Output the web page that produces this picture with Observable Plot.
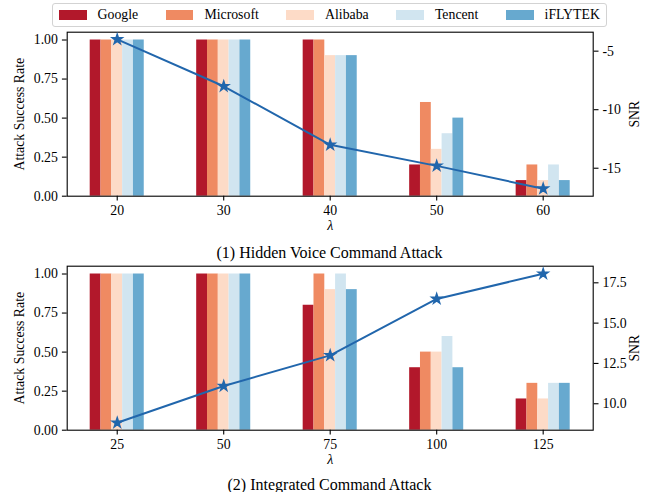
<!DOCTYPE html>
<html><head><meta charset="utf-8">
<script src="https://cdn.jsdelivr.net/npm/d3@7"></script>
<script src="https://cdn.jsdelivr.net/npm/@observablehq/plot@0.6"></script>
<style>
body{margin:0;background:#fff;}
#fig{position:relative;width:651px;height:492px;font-family:"Liberation Serif","Times New Roman",serif;color:#000;overflow:hidden;}
#fig svg, #fig svg text, #fig svg tspan{font-family:"Liberation Serif","Times New Roman",serif !important;}
.layer{position:absolute;left:0;}
#legend{position:absolute;left:52px;top:3px;height:23.5px;box-sizing:border-box;border:1px solid #d3d3d3;border-radius:3px;display:flex;align-items:center;padding:0 6px;font-size:13.8px;background:rgba(255,255,255,0.8);z-index:5;}
.item{display:flex;align-items:center;margin-right:27.6px;}
.item:last-child{margin-right:0;}
.sw{width:27.6px;height:9.6px;margin-right:11px;}
.cap{position:absolute;left:0;width:659px;text-align:center;font-size:16px;line-height:16px;}
</style></head>
<body>
<div id="fig">
  <div id="legend"></div>
  <div class="cap" style="top:245px">(1) Hidden Voice Command Attack</div>
  <div class="cap" style="top:477px">(2) Integrated Command Attack</div>
</div>
<script>
// ---- data ----
const companies = ["Google", "Microsoft", "Alibaba", "Tencent", "iFLYTEK"];
const colors = ["#b2182b", "#ef8a62", "#fddbc7", "#d1e5f0", "#67a9cf"];
const lineColor = "#2166ac";

// (1) Hidden Voice Command Attack
const hiddenLambda = [20, 30, 40, 50, 60];
const hiddenGoogle = [1.0, 1.0, 1.0, 0.2, 0.1];
const hiddenMicrosoft = [1.0, 1.0, 1.0, 0.6, 0.2];
const hiddenAlibaba = [1.0, 1.0, 0.9, 0.3, 0.1];
const hiddenTencent = [1.0, 1.0, 0.9, 0.4, 0.2];
const hiddenIflytek = [1.0, 1.0, 0.9, 0.5, 0.1];
const hiddenSNR = [-4.0, -8.0, -13.0, -14.8, -16.75];
const hiddenSNRTicks = [-5, -10, -15];

// (2) Integrated Command Attack
const integLambda = [25, 50, 75, 100, 125];
const integGoogle = [1.0, 1.0, 0.8, 0.4, 0.2];
const integMicrosoft = [1.0, 1.0, 1.0, 0.5, 0.3];
const integAlibaba = [1.0, 1.0, 0.9, 0.5, 0.2];
const integTencent = [1.0, 1.0, 1.0, 0.6, 0.3];
const integIflytek = [1.0, 1.0, 0.9, 0.4, 0.3];
const integSNR = [8.82, 11.1, 13.0, 16.5, 18.06];
const integSNRTicks = [10.0, 12.5, 15.0, 17.5];

const rateTicks = [0, 0.25, 0.5, 0.75, 1.0];

// ---- legend ----
const legend = document.getElementById("legend");
companies.forEach((c, i) => {
  const it = document.createElement("div"); it.className = "item";
  const sw = document.createElement("div"); sw.className = "sw"; sw.style.background = colors[i];
  const tx = document.createElement("span"); tx.textContent = c;
  it.appendChild(sw); it.appendChild(tx); legend.appendChild(it);
});

const FONT = '"Liberation Serif", "Times New Roman", serif';
const fig = document.getElementById("fig");

function panel(top, lambdas, series, snr, snrDomain, snrTicks, snrFormat) {
  const bars = [];
  lambdas.forEach((l, i) => companies.forEach((c, j) => bars.push({lambda: String(l), company: c, rate: series[j][i]})));
  const line = lambdas.map((l, i) => ({lambda: String(l), snr: snr[i]}));
  const xOpts = {type: "band", domain: lambdas.map(String), paddingInner: 0.4925, paddingOuter: 0.216, round: false, label: null};
  const common = {
    width: 651, height: 235,
    marginTop: 31.7, marginBottom: 39.3, marginLeft: 66.7, marginRight: 58.3,
    style: {fontFamily: FONT, fontSize: "13.8px", background: "transparent", overflow: "visible", color: "#000"}
  };
  const w = 10.81;
  const chart = Plot.plot({
    ...common,
    x: xOpts,
    y: {domain: [0, 1.05], label: null},
    marks: [
      ...companies.map((c, j) => Plot.barY(bars.filter(d => d.company === c), {
        x: "lambda", y: "rate", fill: colors[j], insetLeft: j * w, insetRight: (4 - j) * w
      })),
      Plot.frame({stroke: "#000", strokeWidth: 1.1}),
      Plot.axisY({ticks: rateTicks, tickFormat: d3.format(".2f"), tickSize: 4.8, tickPadding: 4.5, strokeWidth: 1.1,
        label: "Attack Success Rate", labelArrow: "none", labelAnchor: "center", labelOffset: 52.7}),
      Plot.axisX({tickSize: 4.8, tickPadding: 4.5, strokeWidth: 1.1}),
      Plot.text(["λ"], {text: d => d, frameAnchor: "bottom", dy: 34, fontStyle: "italic", fontSize: 14})
    ]
  });
  const over = Plot.plot({
    ...common,
    x: {...xOpts, axis: null},
    y: {domain: snrDomain, label: null},
    marks: [
      Plot.line(line, {x: "lambda", y: "snr", stroke: lineColor, strokeWidth: 2}),
      Plot.dot(line, {x: "lambda", y: "snr", symbol: "star", fill: lineColor, stroke: lineColor, r: 3.1}),
      Plot.axisY({anchor: "right", ticks: snrTicks, tickFormat: snrFormat, tickSize: 4.8, tickPadding: 4.5, strokeWidth: 1.1,
        label: "SNR", labelArrow: "none", labelAnchor: "center", labelOffset: 46})
    ]
  });
  [chart, over].forEach(s => { s.classList.add("layer"); s.style.top = top + "px"; fig.appendChild(s); });
}

panel(0, hiddenLambda, [hiddenGoogle, hiddenMicrosoft, hiddenAlibaba, hiddenTencent, hiddenIflytek],
  hiddenSNR, [-17.39, -3.38], hiddenSNRTicks, d => String(d));
panel(234, integLambda, [integGoogle, integMicrosoft, integAlibaba, integTencent, integIflytek],
  integSNR, [8.36, 18.53], integSNRTicks, d3.format(".1f"));
</script>
</body></html>
